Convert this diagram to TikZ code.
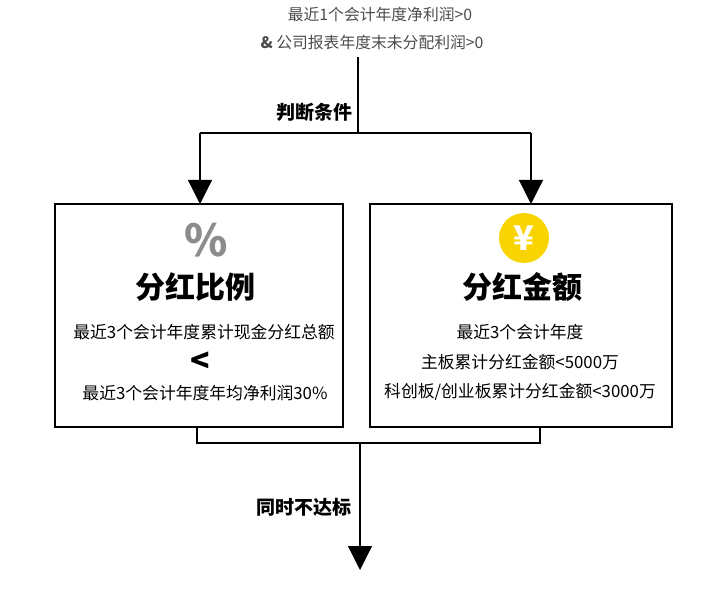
\documentclass[tikz,border=0pt]{standalone}
\usepackage{fontspec}
\setmainfont{Noto Sans CJK SC}
\usetikzlibrary{arrows.meta}
\begin{document}
\begin{tikzpicture}[x=1pt,y=-1pt,
  ln/.style={line width=1.2pt},
  arr/.style={ln,-{Triangle[length=24pt,width=24pt]}},
  box/.style={draw,line width=1.3pt},
  body/.style={font=\fontsize{16.8}{18}\selectfont,inner sep=0pt},
  top/.style={font=\fontsize{15.8}{17}\selectfont,text=black!70,inner sep=0pt},
  ttl/.style={font=\bfseries\fontsize{30}{32}\selectfont,inner sep=0pt},
  lbl/.style={font=\bfseries\fontsize{19}{20}\selectfont,inner sep=0pt,anchor=east}]
\useasboundingbox (0,0) rectangle (709,612);
\node[top] (t1) at (380,14) {最近1个会计年度净利润>0};
\node[top] (t2) at (372,42) {{\bfseries\&} 公司报表年度末未分配利润>0};
\draw[box] (55,204) rectangle (343,427);
\draw[box] (370,204) rectangle (672,427);
\coordinate (a) at (358,57);
\coordinate (b) at (358,133);
\coordinate (bl) at (200,133);
\coordinate (br) at (531,133);
\coordinate (lt) at (200,204);
\coordinate (rt) at (531,204);
\draw[ln] (a) -- (b);
\draw[ln] (bl) -- (br);
\draw[arr] (bl) -- (lt);
\draw[arr] (br) -- (rt);
\node[lbl] (c1) at (353,112) {判断条件};
\node[font=\bfseries\fontsize{44}{44}\selectfont,text=black!45,inner sep=0pt] (pct) at (206,240) {\%};
\node[ttl] (h1) at (195,287) {分红比例};
\node[body] (l1) at (204,332) {最近3个会计年度累计现金分红总额};
\node[font=\bfseries\fontsize{32}{32}\selectfont,inner sep=0pt] (lt2) at (200,362) {<};
\node[body] (l2) at (205,393) {最近3个会计年度年均净利润30\%};
\node[circle,fill={rgb,255:red,250;green,212;blue,0},minimum size=50pt,inner sep=0pt,text=white,font=\bfseries\fontsize{34}{34}\selectfont] (yen) at (524,238) {¥};
\node[ttl] (h2) at (522,287) {分红金额};
\node[body] (r1) at (520,332) {最近3个会计年度};
\node[body] (r2) at (520,362) {主板累计分红金额<5000万};
\node[body] (r3) at (520,392) {科创板/创业板累计分红金额<3000万};
\coordinate (p1) at (197,427);
\coordinate (p2) at (197,443);
\coordinate (p3) at (540,443);
\coordinate (p4) at (540,427);
\coordinate (m) at (360,443);
\coordinate (e) at (360,570);
\draw[ln] (p1) -- (p2) -- (p3) -- (p4);
\draw[arr] (m) -- (e);
\node[lbl] (c2) at (352,507) {同时不达标};
\end{tikzpicture}
\end{document}
